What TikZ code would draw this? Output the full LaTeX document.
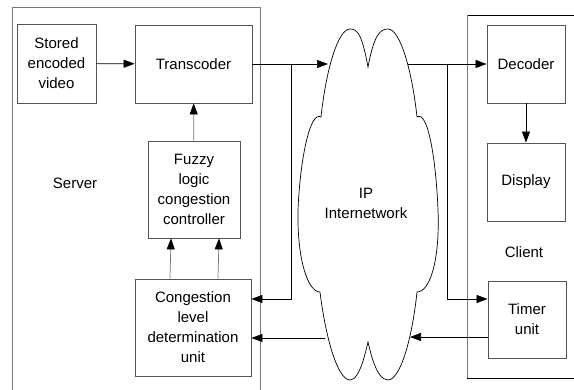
\documentclass[tikz,border=0pt]{standalone}
\usepackage{fontspec}
\setmainfont{Liberation Sans}
\usetikzlibrary{arrows.meta}
\definecolor{frame}{HTML}{555555}
\definecolor{stem}{HTML}{777777}
\tikzset{
  x=1pt, y=-1pt,
  block/.style={draw=frame, line width=0.8pt, inner sep=0pt, align=center,
    font=\fontsize{15}{20}\selectfont},
  lbl/.style={inner sep=0pt, align=center, font=\fontsize{15}{20}\selectfont},
  arr/.style={-{Triangle[length=11pt,width=8pt,color=black]}, line width=0.7pt},
  link/.style={line width=0.7pt},
  region/.style={line width=0.8pt},
}
\begin{document}
\begin{tikzpicture}
\useasboundingbox (0,0) rectangle (574,390);

% server and client enclosures
\draw[region, draw=stem] (12,390) -- (12,7) -- (260,7) -- (260,390);
\draw[region, draw=black] (574,15) -- (467,15) -- (467,378) -- (574,378);
\draw[region, draw=stem] (467,15) -- (467,378);

% server blocks
\node[block, minimum width=79pt, minimum height=79pt] (stored) at (56.5,63.5) {Stored\\encoded\\video};
\node[block, minimum width=117pt, minimum height=78pt] (trans) at (193.5,64) {Transcoder};
\node[block, minimum width=92pt, minimum height=97pt] (fuzzy) at (194,189.5) {Fuzzy\\logic\\congestion\\controller};
\node[block, minimum width=116pt, minimum height=97pt] (cong) at (193,327.5) {Congestion\\level\\determination\\unit};
\node[lbl] (server) at (75,183) {Server};

% client blocks
\node[block, minimum width=78pt, minimum height=78pt] (dec) at (526,64) {Decoder};
\node[block, minimum width=78pt, minimum height=78pt] (disp) at (526,182) {Display};
\node[block, minimum width=78pt, minimum height=77pt] (timer) at (527,319.5) {Timer\\unit};
\node[lbl] (client) at (524,252) {Client};

% branch points and cloud edge points
\coordinate (jl) at (291,64);
\coordinate (jr) at (447,64);
\coordinate (cin) at (328,64);
\coordinate (cout) at (408,64);
\coordinate (cleft) at (325,338);
\coordinate (cback) at (410,337);

% paths running under the cloud
\draw[link] (trans.east) -- (jl);
\draw[arr] (jl) |- ([yshift=28.5pt]cong.east);
\draw[arr] (cleft) -- (cleft -| cong.east);

% IP internetwork cloud
\draw[fill=white, line width=0.7pt]
  (368,67) .. controls (362,35) and (358,29) .. (350,29)
  .. controls (338,29) and (326,70) .. (321,117)
  .. controls (310,110) and (300,160) .. (298,210)
  .. controls (297,260) and (308,292) .. (320,292)
  .. controls (326,340) and (338,380) .. (350,380)
  .. controls (360,380) and (366,350) .. (368,342)
  .. controls (370,350) and (376,380) .. (388,380)
  .. controls (400,380) and (412,340) .. (417,292)
  .. controls (430,292) and (440,260) .. (438,210)
  .. controls (436,160) and (428,110) .. (417,117)
  .. controls (412,70) and (400,29) .. (388,29)
  .. controls (380,29) and (374,35) .. cycle;
\node[lbl] (ip) at (366,203) {IP\\Internetwork};

% connectors
\draw[arr] (jl) -- (cin);
\draw[link] (cout) -- (jr);
\draw[arr] (jr) -- (dec.west);
\draw[arr] (jr) |- ([yshift=20.5pt]timer.west);
\draw[arr] (timer.west |- cback) -- (cback);
\draw[arr] (dec) -- (disp);
\draw[arr] (stored) -- (trans);
\draw[arr, draw=stem] (fuzzy) -- (trans);
\draw[arr, draw=stem] ([xshift=-23pt]cong.north) -- ([xshift=-23pt]fuzzy.south);
\draw[arr, draw=stem] ([xshift=25pt]cong.north) -- ([xshift=25pt]fuzzy.south);
\end{tikzpicture}
\end{document}
